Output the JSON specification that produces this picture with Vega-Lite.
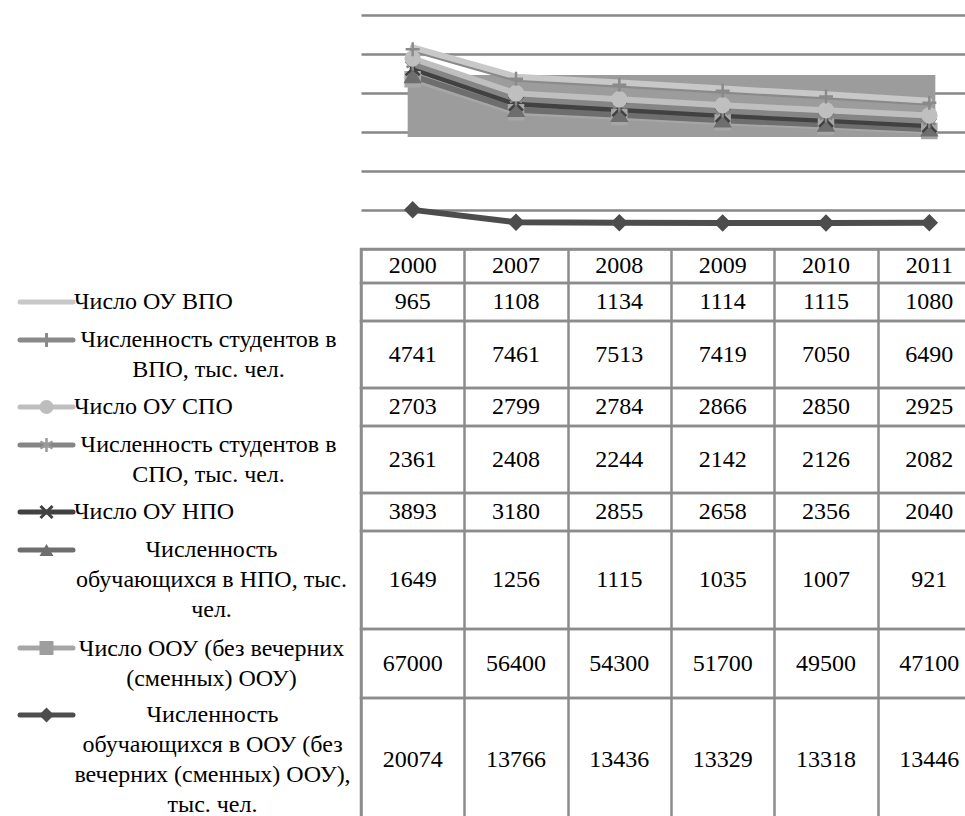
{
  "$schema": "https://vega.github.io/schema/vega-lite/v6.json",
  "background": "white",
  "padding": {"left": 10, "top": 15, "right": 0, "bottom": 0},
  "config": {
    "font": "Liberation Serif, Times New Roman, DejaVu Serif, serif",
    "view": {"stroke": "#8c8c8c", "strokeWidth": 2.5},
    "text": {"font": "Liberation Serif, Times New Roman, DejaVu Serif, serif", "fontSize": 24, "color": "#000000", "lineHeight": 30},
    "point": {"opacity": 1},
    "axisBand": {"grid": true, "tickBand": "extent", "labels": false, "ticks": false, "domain": false, "gridColor": "#8c8c8c", "gridWidth": 2.5, "gridOpacity": 1}
  },
  "datasets": {
    "series": [
      {"n": 1, "series": "Число ОУ ВПО", "lines": ["Число ОУ ВПО"]},
      {"n": 2, "series": "Численность студентов в ВПО, тыс. чел.", "lines": ["Численность студентов в", "ВПО, тыс. чел."]},
      {"n": 3, "series": "Число ОУ СПО", "lines": ["Число ОУ СПО"]},
      {"n": 4, "series": "Численность студентов в СПО, тыс. чел.", "lines": ["Численность студентов в", "СПО, тыс. чел."]},
      {"n": 5, "series": "Число ОУ НПО", "lines": ["Число ОУ НПО"]},
      {"n": 6, "series": "Численность обучающихся в НПО, тыс. чел.", "lines": ["Численность", "обучающихся в НПО, тыс.", "чел."]},
      {"n": 7, "series": "Число ООУ (без вечерних (сменных) ООУ)", "lines": ["Число ООУ (без вечерних", "(сменных) ООУ)"]},
      {"n": 8, "series": "Численность обучающихся в ООУ (без вечерних (сменных) ООУ), тыс. чел.", "lines": ["Численность", "обучающихся в ООУ (без", "вечерних (сменных) ООУ),", "тыс. чел."]}
    ],
    "table": [
      {"series": "Численность обучающихся в ООУ (без вечерних (сменных) ООУ), тыс. чел.", "year": "2000", "value": 20074},
      {"series": "Численность обучающихся в ООУ (без вечерних (сменных) ООУ), тыс. чел.", "year": "2007", "value": 13766},
      {"series": "Численность обучающихся в ООУ (без вечерних (сменных) ООУ), тыс. чел.", "year": "2008", "value": 13436},
      {"series": "Численность обучающихся в ООУ (без вечерних (сменных) ООУ), тыс. чел.", "year": "2009", "value": 13329},
      {"series": "Численность обучающихся в ООУ (без вечерних (сменных) ООУ), тыс. чел.", "year": "2010", "value": 13318},
      {"series": "Численность обучающихся в ООУ (без вечерних (сменных) ООУ), тыс. чел.", "year": "2011", "value": 13446},
      {"series": "Число ООУ (без вечерних (сменных) ООУ)", "year": "2000", "value": 67000},
      {"series": "Число ООУ (без вечерних (сменных) ООУ)", "year": "2007", "value": 56400},
      {"series": "Число ООУ (без вечерних (сменных) ООУ)", "year": "2008", "value": 54300},
      {"series": "Число ООУ (без вечерних (сменных) ООУ)", "year": "2009", "value": 51700},
      {"series": "Число ООУ (без вечерних (сменных) ООУ)", "year": "2010", "value": 49500},
      {"series": "Число ООУ (без вечерних (сменных) ООУ)", "year": "2011", "value": 47100},
      {"series": "Численность обучающихся в НПО, тыс. чел.", "year": "2000", "value": 1649},
      {"series": "Численность обучающихся в НПО, тыс. чел.", "year": "2007", "value": 1256},
      {"series": "Численность обучающихся в НПО, тыс. чел.", "year": "2008", "value": 1115},
      {"series": "Численность обучающихся в НПО, тыс. чел.", "year": "2009", "value": 1035},
      {"series": "Численность обучающихся в НПО, тыс. чел.", "year": "2010", "value": 1007},
      {"series": "Численность обучающихся в НПО, тыс. чел.", "year": "2011", "value": 921},
      {"series": "Число ОУ НПО", "year": "2000", "value": 3893},
      {"series": "Число ОУ НПО", "year": "2007", "value": 3180},
      {"series": "Число ОУ НПО", "year": "2008", "value": 2855},
      {"series": "Число ОУ НПО", "year": "2009", "value": 2658},
      {"series": "Число ОУ НПО", "year": "2010", "value": 2356},
      {"series": "Число ОУ НПО", "year": "2011", "value": 2040},
      {"series": "Численность студентов в СПО, тыс. чел.", "year": "2000", "value": 2361},
      {"series": "Численность студентов в СПО, тыс. чел.", "year": "2007", "value": 2408},
      {"series": "Численность студентов в СПО, тыс. чел.", "year": "2008", "value": 2244},
      {"series": "Численность студентов в СПО, тыс. чел.", "year": "2009", "value": 2142},
      {"series": "Численность студентов в СПО, тыс. чел.", "year": "2010", "value": 2126},
      {"series": "Численность студентов в СПО, тыс. чел.", "year": "2011", "value": 2082},
      {"series": "Число ОУ СПО", "year": "2000", "value": 2703},
      {"series": "Число ОУ СПО", "year": "2007", "value": 2799},
      {"series": "Число ОУ СПО", "year": "2008", "value": 2784},
      {"series": "Число ОУ СПО", "year": "2009", "value": 2866},
      {"series": "Число ОУ СПО", "year": "2010", "value": 2850},
      {"series": "Число ОУ СПО", "year": "2011", "value": 2925},
      {"series": "Численность студентов в ВПО, тыс. чел.", "year": "2000", "value": 4741},
      {"series": "Численность студентов в ВПО, тыс. чел.", "year": "2007", "value": 7461},
      {"series": "Численность студентов в ВПО, тыс. чел.", "year": "2008", "value": 7513},
      {"series": "Численность студентов в ВПО, тыс. чел.", "year": "2009", "value": 7419},
      {"series": "Численность студентов в ВПО, тыс. чел.", "year": "2010", "value": 7050},
      {"series": "Численность студентов в ВПО, тыс. чел.", "year": "2011", "value": 6490},
      {"series": "Число ОУ ВПО", "year": "2000", "value": 965},
      {"series": "Число ОУ ВПО", "year": "2007", "value": 1108},
      {"series": "Число ОУ ВПО", "year": "2008", "value": 1134},
      {"series": "Число ОУ ВПО", "year": "2009", "value": 1114},
      {"series": "Число ОУ ВПО", "year": "2010", "value": 1115},
      {"series": "Число ОУ ВПО", "year": "2011", "value": 1080}
    ]
  },
  "columns": 2,
  "spacing": 0,
  "bounds": "flush",
  "concat": [
    {
      "width": 347, "height": 234, "view": {"stroke": null},
      "data": {"values": [{}]},
      "mark": {"type": "text"},
      "encoding": {"text": {"value": ""}}
    },
    {
      "width": 620, "height": 234, "view": {"stroke": null},
      "layer": [
        {
          "data": {"values": [{}]},
          "mark": {"type": "rect", "color": "#9c9c9c", "xOffset": -5, "x2Offset": 6},
          "encoding": {
            "x": {"datum": "2000", "type": "ordinal", "scale": {"type": "point", "padding": 0.5}, "axis": null},
            "x2": {"datum": "2011"},
            "y": {"datum": 89200, "type": "quantitative", "scale": {"domain": [0, 120000], "nice": false},
                  "axis": {"title": null, "grid": true, "tickCount": 6, "labels": false, "ticks": false, "domain": false, "gridColor": "#878787", "gridWidth": 2.5, "gridOpacity": 1}},
            "y2": {"datum": 57400}
          }
        },
        {
          "data": {"name": "table"},
          "transform": [
            {"lookup": "series", "from": {"data": {"name": "series"}, "key": "series", "fields": ["n"]}},
            {"stack": "value", "groupby": ["year"], "sort": [{"field": "n", "order": "descending"}], "as": ["v0", "v1"]}
          ],
          "encoding": {
            "x": {"field": "year", "type": "ordinal", "scale": {"type": "point", "padding": 0.5}, "axis": null},
            "y": {"field": "v1", "type": "quantitative", "scale": {"domain": [0, 120000], "nice": false},
                  "axis": {"title": null, "grid": true, "tickCount": 6, "labels": false, "ticks": false, "domain": false, "gridColor": "#878787", "gridWidth": 2.5, "gridOpacity": 1}}
          },
          "layer": [
            {
              "mark": {"type": "line", "strokeWidth": 6, "strokeJoin": "round", "strokeCap": "round"},
              "encoding": {
                "color": {"field": "series", "type": "nominal", "legend": null,
                  "scale": {
                    "domain": ["Число ОУ ВПО", "Численность студентов в ВПО, тыс. чел.", "Число ОУ СПО", "Численность студентов в СПО, тыс. чел.", "Число ОУ НПО", "Численность обучающихся в НПО, тыс. чел.", "Число ООУ (без вечерних (сменных) ООУ)", "Численность обучающихся в ООУ (без вечерних (сменных) ООУ), тыс. чел."],
                    "range": ["#c8c8c8", "#8a8a8a", "#bfbfbf", "#858585", "#414141", "#6e6e6e", "#a6a6a6", "#4d4d4d"]
                  }}
              }
            },
            {
              "transform": [{"filter": "datum.n != 1"}],
              "mark": {"type": "point", "filled": true, "strokeWidth": 2.5, "size": 196},
              "encoding": {
                "color": {"field": "series", "type": "nominal", "legend": null,
                  "scale": {
                    "domain": ["Число ОУ ВПО", "Численность студентов в ВПО, тыс. чел.", "Число ОУ СПО", "Численность студентов в СПО, тыс. чел.", "Число ОУ НПО", "Численность обучающихся в НПО, тыс. чел.", "Число ООУ (без вечерних (сменных) ООУ)", "Численность обучающихся в ООУ (без вечерних (сменных) ООУ), тыс. чел."],
                    "range": ["#c8c8c8", "#8a8a8a", "#bfbfbf", "#858585", "#414141", "#6e6e6e", "#a6a6a6", "#4d4d4d"]
                  }},
                "stroke": {"field": "series", "type": "nominal", "legend": null,
                  "scale": {
                    "domain": ["Число ОУ ВПО", "Численность студентов в ВПО, тыс. чел.", "Число ОУ СПО", "Численность студентов в СПО, тыс. чел.", "Число ОУ НПО", "Численность обучающихся в НПО, тыс. чел.", "Число ООУ (без вечерних (сменных) ООУ)", "Численность обучающихся в ООУ (без вечерних (сменных) ООУ), тыс. чел."],
                    "range": ["#c8c8c8", "#8a8a8a", "#bfbfbf", "#858585", "#414141", "#6e6e6e", "#a6a6a6", "#4d4d4d"]
                  }},
                "shape": {"field": "series", "type": "nominal", "legend": null,
                  "scale": {
                    "domain": ["Численность студентов в ВПО, тыс. чел.", "Число ОУ СПО", "Численность студентов в СПО, тыс. чел.", "Число ОУ НПО", "Численность обучающихся в НПО, тыс. чел.", "Число ООУ (без вечерних (сменных) ООУ)", "Численность обучающихся в ООУ (без вечерних (сменных) ООУ), тыс. чел."],
                    "range": ["M0,-1L0,1M-1,0L1,0", "circle", "M0,-1L0,1M-0.87,-0.5L0.87,0.5M-0.87,0.5L0.87,-0.5", "M-1,-1L1,1M-1,1L1,-1", "triangle-up", "square", "diamond"]
                  }}
              }
            }
          ]
        }
      ]
    },
    {
      "width": 347, "height": 34, "view": {"stroke": null},
      "data": {"values": [{}]},
      "mark": {"type": "text"},
      "encoding": {"text": {"value": ""}}
    },
    {
      "width": 620, "height": 34,
      "data": {"name": "table"},
      "transform": [{"filter": {"field": "series", "equal": "Число ОУ ВПО"}}],
      "mark": {"type": "text"},
      "encoding": {
        "x": {"field": "year", "type": "ordinal", "scale": {"type": "band", "paddingInner": 0, "paddingOuter": 0}, "axis": {"title": null}},
        "text": {"field": "year", "type": "nominal"}
      }
    },
    {
      "width": 347, "height": 38,
      "data": {"name": "series"},
      "transform": [{"filter": "datum.n == 1"}],
      "layer": [
        {"mark": {"type": "point", "shape": "M-1,0L1,0", "size": 2809, "filled": false, "strokeWidth": 5, "strokeCap": "round", "color": "#c8c8c8", "x": 32.5, "y": 19}},
        {"mark": {"type": "text", "align": "left", "x": 60}, "encoding": {"text": {"field": "lines", "type": "nominal"}}}
      ]
    },
    {
      "width": 620, "height": 38,
      "data": {"name": "table"},
      "transform": [{"filter": {"field": "series", "equal": "Число ОУ ВПО"}}],
      "mark": {"type": "text"},
      "encoding": {
        "x": {"field": "year", "type": "ordinal", "scale": {"type": "band", "paddingInner": 0, "paddingOuter": 0}, "axis": {"title": null}},
        "text": {"field": "value", "type": "quantitative", "format": "d"}
      }
    },
    {
      "width": 347, "height": 67,
      "data": {"name": "series"},
      "transform": [{"filter": "datum.n == 2"}],
      "layer": [
        {"mark": {"type": "point", "shape": "M-1,0L1,0", "size": 2809, "filled": false, "strokeWidth": 5, "strokeCap": "round", "color": "#8a8a8a", "x": 32.5, "y": 19}},
        {"mark": {"type": "point", "shape": "M0,-1L0,1", "size": 196, "filled": false, "strokeWidth": 3, "color": "#8a8a8a", "x": 32.5, "y": 19}},
        {"mark": {"type": "text", "align": "center", "dx": 21, "dy": -15}, "encoding": {"text": {"field": "lines", "type": "nominal"}}}
      ]
    },
    {
      "width": 620, "height": 67,
      "data": {"name": "table"},
      "transform": [{"filter": {"field": "series", "equal": "Численность студентов в ВПО, тыс. чел."}}],
      "mark": {"type": "text"},
      "encoding": {
        "x": {"field": "year", "type": "ordinal", "scale": {"type": "band", "paddingInner": 0, "paddingOuter": 0}, "axis": {"title": null}},
        "text": {"field": "value", "type": "quantitative", "format": "d"}
      }
    },
    {
      "width": 347, "height": 38,
      "data": {"name": "series"},
      "transform": [{"filter": "datum.n == 3"}],
      "layer": [
        {"mark": {"type": "point", "shape": "M-1,0L1,0", "size": 2809, "filled": false, "strokeWidth": 5, "strokeCap": "round", "color": "#bfbfbf", "x": 32.5, "y": 19}},
        {"mark": {"type": "point", "shape": "circle", "size": 196, "filled": true, "color": "#bdbdbd", "x": 32.5, "y": 19}},
        {"mark": {"type": "text", "align": "left", "x": 60}, "encoding": {"text": {"field": "lines", "type": "nominal"}}}
      ]
    },
    {
      "width": 620, "height": 38,
      "data": {"name": "table"},
      "transform": [{"filter": {"field": "series", "equal": "Число ОУ СПО"}}],
      "mark": {"type": "text"},
      "encoding": {
        "x": {"field": "year", "type": "ordinal", "scale": {"type": "band", "paddingInner": 0, "paddingOuter": 0}, "axis": {"title": null}},
        "text": {"field": "value", "type": "quantitative", "format": "d"}
      }
    },
    {
      "width": 347, "height": 67,
      "data": {"name": "series"},
      "transform": [{"filter": "datum.n == 4"}],
      "layer": [
        {"mark": {"type": "point", "shape": "M-1,0L1,0", "size": 2809, "filled": false, "strokeWidth": 5, "strokeCap": "round", "color": "#858585", "x": 32.5, "y": 19}},
        {"mark": {"type": "point", "shape": "M0,-1L0,1M-0.87,-0.5L0.87,0.5M-0.87,0.5L0.87,-0.5", "size": 196, "filled": false, "strokeWidth": 2.5, "color": "#9a9a9a", "x": 32.5, "y": 19}},
        {"mark": {"type": "text", "align": "center", "dx": 21, "dy": -15}, "encoding": {"text": {"field": "lines", "type": "nominal"}}}
      ]
    },
    {
      "width": 620, "height": 67,
      "data": {"name": "table"},
      "transform": [{"filter": {"field": "series", "equal": "Численность студентов в СПО, тыс. чел."}}],
      "mark": {"type": "text"},
      "encoding": {
        "x": {"field": "year", "type": "ordinal", "scale": {"type": "band", "paddingInner": 0, "paddingOuter": 0}, "axis": {"title": null}},
        "text": {"field": "value", "type": "quantitative", "format": "d"}
      }
    },
    {
      "width": 347, "height": 38,
      "data": {"name": "series"},
      "transform": [{"filter": "datum.n == 5"}],
      "layer": [
        {"mark": {"type": "point", "shape": "M-1,0L1,0", "size": 2809, "filled": false, "strokeWidth": 5, "strokeCap": "round", "color": "#414141", "x": 32.5, "y": 19}},
        {"mark": {"type": "point", "shape": "M-1,-1L1,1M-1,1L1,-1", "size": 144, "filled": false, "strokeWidth": 3, "color": "#414141", "x": 32.5, "y": 19}},
        {"mark": {"type": "text", "align": "left", "x": 60}, "encoding": {"text": {"field": "lines", "type": "nominal"}}}
      ]
    },
    {
      "width": 620, "height": 38,
      "data": {"name": "table"},
      "transform": [{"filter": {"field": "series", "equal": "Число ОУ НПО"}}],
      "mark": {"type": "text"},
      "encoding": {
        "x": {"field": "year", "type": "ordinal", "scale": {"type": "band", "paddingInner": 0, "paddingOuter": 0}, "axis": {"title": null}},
        "text": {"field": "value", "type": "quantitative", "format": "d"}
      }
    },
    {
      "width": 347, "height": 98,
      "data": {"name": "series"},
      "transform": [{"filter": "datum.n == 6"}],
      "layer": [
        {"mark": {"type": "point", "shape": "M-1,0L1,0", "size": 2809, "filled": false, "strokeWidth": 5, "strokeCap": "round", "color": "#6e6e6e", "x": 32.5, "y": 19}},
        {"mark": {"type": "point", "shape": "triangle-up", "size": 196, "filled": true, "color": "#6e6e6e", "x": 32.5, "y": 19}},
        {"mark": {"type": "text", "align": "center", "dx": 24, "dy": -30}, "encoding": {"text": {"field": "lines", "type": "nominal"}}}
      ]
    },
    {
      "width": 620, "height": 98,
      "data": {"name": "table"},
      "transform": [{"filter": {"field": "series", "equal": "Численность обучающихся в НПО, тыс. чел."}}],
      "mark": {"type": "text"},
      "encoding": {
        "x": {"field": "year", "type": "ordinal", "scale": {"type": "band", "paddingInner": 0, "paddingOuter": 0}, "axis": {"title": null}},
        "text": {"field": "value", "type": "quantitative", "format": "d"}
      }
    },
    {
      "width": 347, "height": 69,
      "data": {"name": "series"},
      "transform": [{"filter": "datum.n == 7"}],
      "layer": [
        {"mark": {"type": "point", "shape": "M-1,0L1,0", "size": 2809, "filled": false, "strokeWidth": 5, "strokeCap": "round", "color": "#a6a6a6", "x": 32.5, "y": 19}},
        {"mark": {"type": "point", "shape": "square", "size": 196, "filled": true, "color": "#9e9e9e", "x": 32.5, "y": 19}},
        {"mark": {"type": "text", "align": "center", "dx": 24, "dy": -15}, "encoding": {"text": {"field": "lines", "type": "nominal"}}}
      ]
    },
    {
      "width": 620, "height": 69,
      "data": {"name": "table"},
      "transform": [{"filter": {"field": "series", "equal": "Число ООУ (без вечерних (сменных) ООУ)"}}],
      "mark": {"type": "text"},
      "encoding": {
        "x": {"field": "year", "type": "ordinal", "scale": {"type": "band", "paddingInner": 0, "paddingOuter": 0}, "axis": {"title": null}},
        "text": {"field": "value", "type": "quantitative", "format": "d"}
      }
    },
    {
      "width": 347, "height": 124,
      "data": {"name": "series"},
      "transform": [{"filter": "datum.n == 8"}],
      "layer": [
        {"mark": {"type": "point", "shape": "M-1,0L1,0", "size": 2809, "filled": false, "strokeWidth": 5, "strokeCap": "round", "color": "#4d4d4d", "x": 32.5, "y": 17}},
        {"mark": {"type": "point", "shape": "diamond", "size": 225, "filled": true, "color": "#4d4d4d", "x": 32.5, "y": 17}},
        {"mark": {"type": "text", "align": "center", "dx": 25, "dy": -45}, "encoding": {"text": {"field": "lines", "type": "nominal"}}}
      ]
    },
    {
      "width": 620, "height": 124,
      "data": {"name": "table"},
      "transform": [{"filter": {"field": "series", "equal": "Численность обучающихся в ООУ (без вечерних (сменных) ООУ), тыс. чел."}}],
      "mark": {"type": "text"},
      "encoding": {
        "x": {"field": "year", "type": "ordinal", "scale": {"type": "band", "paddingInner": 0, "paddingOuter": 0}, "axis": {"title": null}},
        "text": {"field": "value", "type": "quantitative", "format": "d"}
      }
    }
  ]
}
